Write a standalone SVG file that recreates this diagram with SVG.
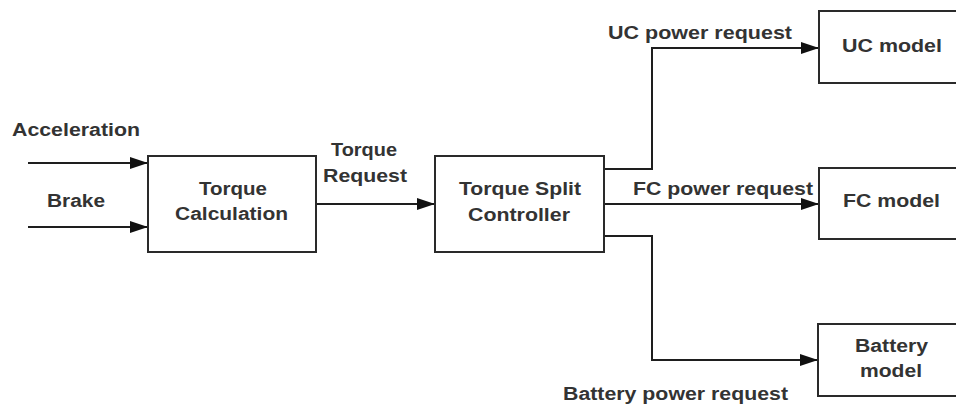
<svg xmlns="http://www.w3.org/2000/svg" width="956" height="407" viewBox="0 0 956 407">
<style>
.box{fill:#fff;stroke:#2a2a2a;stroke-width:2}
.ln{fill:none;stroke:#1e1e1e;stroke-width:2}
text{font-family:"Liberation Sans",Arial,sans-serif;font-weight:bold;font-size:18px;fill:#333}
</style>
<defs>
<marker id="ah" viewBox="0 0 18 12" refX="18" refY="6" markerWidth="18" markerHeight="12" markerUnits="userSpaceOnUse" orient="auto">
<path d="M0,0 L18,6 L0,12 Z" fill="#111"/>
</marker>
</defs>
<rect width="956" height="407" fill="#fff"/>
<g id="connectors">
<line class="ln" x1="28" y1="163" x2="148" y2="163" marker-end="url(#ah)"/>
<line class="ln" x1="28" y1="227" x2="148" y2="227" marker-end="url(#ah)"/>
<line class="ln" x1="316" y1="204" x2="435" y2="204" marker-end="url(#ah)"/>
<polyline class="ln" points="604,169 652,169 652,48 819,48" marker-end="url(#ah)"/>
<line class="ln" x1="604" y1="204" x2="819" y2="204" marker-end="url(#ah)"/>
<polyline class="ln" points="604,236 652,236 652,360 818,360" marker-end="url(#ah)"/>
</g>
<g id="labels">
<text x="12" y="136" textLength="128" lengthAdjust="spacingAndGlyphs">Acceleration</text>
<text x="47" y="207" textLength="58" lengthAdjust="spacingAndGlyphs">Brake</text>
<text x="331" y="156" textLength="66" lengthAdjust="spacingAndGlyphs">Torque</text>
<text x="323" y="182" textLength="84" lengthAdjust="spacingAndGlyphs">Request</text>
<text x="608" y="39" textLength="184" lengthAdjust="spacingAndGlyphs">UC power request</text>
<text x="633" y="195" textLength="180" lengthAdjust="spacingAndGlyphs">FC power request</text>
<text x="563" y="400" textLength="225" lengthAdjust="spacingAndGlyphs">Battery power request</text>
</g>
<g id="torque-calculation">
<rect class="box" x="148" y="156" width="168" height="96"/>
<text x="199" y="195" textLength="68" lengthAdjust="spacingAndGlyphs">Torque</text>
<text x="175" y="220" textLength="113" lengthAdjust="spacingAndGlyphs">Calculation</text>
</g>
<g id="torque-split-controller">
<rect class="box" x="435" y="156" width="169" height="96"/>
<text x="459" y="195" textLength="122" lengthAdjust="spacingAndGlyphs">Torque Split</text>
<text x="468" y="221" textLength="102" lengthAdjust="spacingAndGlyphs">Controller</text>
</g>
<g id="uc-model">
<rect class="box" x="819" y="11" width="160" height="72"/>
<text x="842" y="52" textLength="100" lengthAdjust="spacingAndGlyphs">UC model</text>
</g>
<g id="fc-model">
<rect class="box" x="819" y="168" width="160" height="71"/>
<text x="843" y="207" textLength="97" lengthAdjust="spacingAndGlyphs">FC model</text>
</g>
<g id="battery-model">
<rect class="box" x="818" y="324" width="160" height="72"/>
<text x="855" y="352" textLength="73" lengthAdjust="spacingAndGlyphs">Battery</text>
<text x="860" y="377" textLength="62" lengthAdjust="spacingAndGlyphs">model</text>
</g>
</svg>
